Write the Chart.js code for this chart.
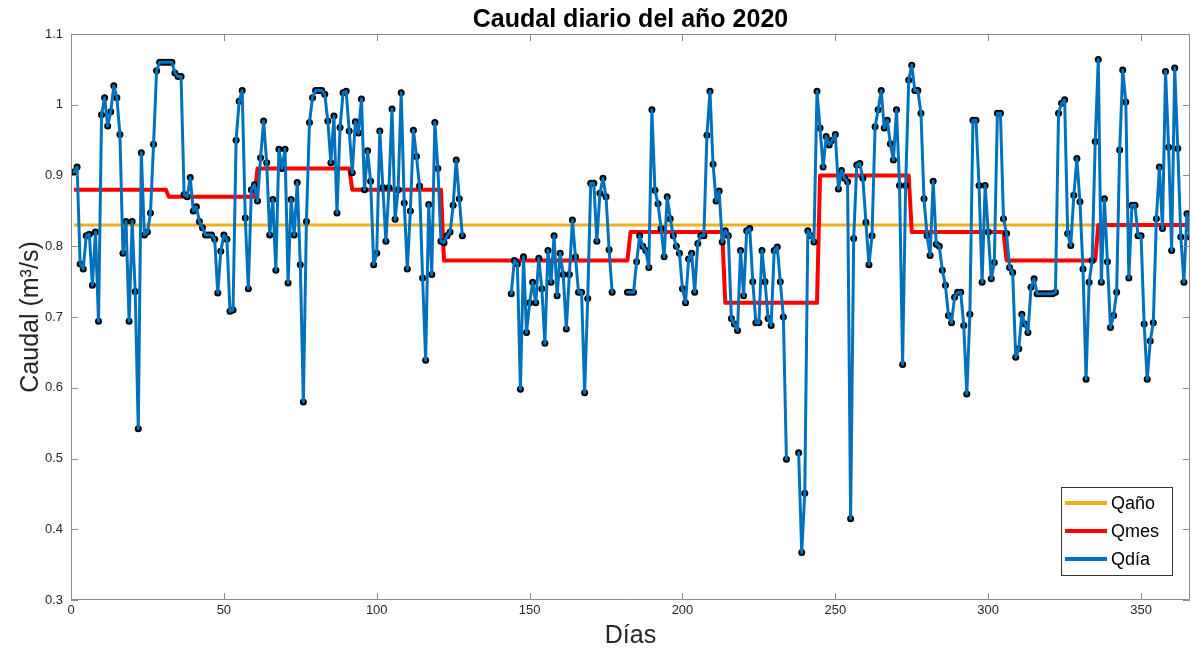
<!DOCTYPE html>
<html lang="es">
<head>
<meta charset="utf-8">
<title>Caudal diario del año 2020</title>
<script src="https://cdn.jsdelivr.net/npm/chart.js@4.4.1/dist/chart.umd.min.js"></script>
<style>
  html, body { margin: 0; padding: 0; background: #fff; }
  #wrap { width: 1194px; height: 653px; }
</style>
</head>
<body>
<div id="wrap"><canvas id="caudalChart" width="1194" height="653"></canvas></div>
<script>
// Caudal medio anual (m3/s)
const qAnio = 0.83;

// Medias mensuales y días de cada mes (2020 es bisiesto)
const diasMes = [31, 29, 31, 30, 31, 30, 31, 31, 30, 31, 30, 31];
const qMes = [0.88, 0.87, 0.91, 0.88, 0.78, 0.78, 0.82, 0.72, 0.90, 0.82, 0.78, 0.83];

// Caudal diario, días 1 a 366 (null = sin dato)
const qDia = [
  0.905, 0.912, 0.775, 0.768, 0.815, 0.817, 0.745, 0.82, 0.694, 0.986,     // 1-10
  1.01, 0.97, 0.99, 1.027, 1.01, 0.958, 0.79, 0.835, 0.694, 0.835,         // 11-20
  0.736, 0.542, 0.932, 0.816, 0.82, 0.847, 0.944, 1.048, 1.06, 1.06,       // 21-30
  1.06, 1.06, 1.06, 1.045, 1.04, 1.04, 0.873, 0.87, 0.897, 0.85,           // 31-40
  0.856, 0.835, 0.826, 0.816, 0.816, 0.816, 0.81, 0.734, 0.793, 0.816,     // 41-50
  0.81, 0.708, 0.71, 0.95, 1.005, 1.02, 0.84, 0.74, 0.88, 0.887,           // 51-60
  0.864, 0.925, 0.977, 0.918, 0.816, 0.866, 0.766, 0.937, 0.91, 0.937,     // 61-70
  0.748, 0.866, 0.816, 0.89, 0.774, 0.58, 0.835, 0.975, 1.01, 1.02,        // 71-80
  1.02, 1.02, 1.015, 0.977, 0.918, 0.984, 0.847, 0.968, 1.017, 1.019,      // 81-90
  0.963, 0.904, 0.976, 0.96, 1.008, 0.88, 0.935, 0.892, 0.774, 0.79,       // 91-100
  0.963, 0.883, 0.807, 0.883, 0.994, 0.838, 0.88, 1.017, 0.861, 0.768,     // 101-110
  0.85, 0.964, 0.927, 0.885, 0.755, 0.639, 0.859, 0.76, 0.975, 0.91,       // 111-120
  0.807, 0.805, 0.815, 0.82, 0.858, 0.922, 0.867, 0.815, null, null,       // 121-130
  null, null, null, null, null, null, null, null, null, null,              // 131-140
  null, null, null, 0.733, 0.78, 0.775, 0.598, 0.785, 0.678, 0.72,         // 141-150
  0.749, 0.72, 0.783, 0.74, 0.663, 0.794, 0.749, 0.815, 0.73, 0.79,        // 151-160
  0.76, 0.683, 0.76, 0.837, 0.785, 0.735, 0.735, 0.593, 0.726, 0.889,      // 161-170
  0.889, 0.807, 0.875, 0.896, 0.87, 0.795, 0.735, null, null, null,        // 171-180
  null, 0.735, 0.735, 0.735, 0.778, 0.815, 0.80, 0.794, 0.77, 0.993,       // 181-190
  0.879, 0.86, 0.825, 0.785, 0.87, 0.839, 0.815, 0.80, 0.79, 0.74,         // 191-200
  0.72, 0.782, 0.79, 0.735, 0.804, 0.815, 0.815, 0.957, 1.019, 0.916,      // 201-210
  0.864, 0.878, 0.806, 0.822, 0.815, 0.698, 0.69, 0.681, 0.794, 0.73,      // 211-220
  0.822, 0.825, 0.75, 0.692, 0.692, 0.794, 0.75, 0.698, 0.688, 0.794,      // 221-230
  0.799, 0.75, 0.7, 0.499, null, null, null, 0.508, 0.367, 0.451,          // 231-240
  0.822, 0.815, 0.806, 1.019, 0.967, 0.912, 0.955, 0.943, 0.95, 0.958,     // 241-250
  0.881, 0.907, 0.896, 0.891, 0.415, 0.811, 0.915, 0.917, 0.896, 0.834,    // 251-260
  0.774, 0.815, 0.969, 0.993, 1.02, 0.967, 0.978, 0.945, 0.922, 0.993,     // 261-270
  0.886, 0.633, 0.886, 1.035, 1.056, 1.02, 1.02, 0.988, 0.867, 0.815,      // 271-280
  0.787, 0.892, 0.803, 0.8, 0.766, 0.745, 0.702, 0.692, 0.728, 0.735,      // 281-290
  0.735, 0.688, 0.591, 0.704, 0.978, 0.978, 0.886, 0.749, 0.886, 0.82,     // 291-300
  0.754, 0.777, 0.988, 0.988, 0.839, 0.818, 0.77, 0.763, 0.643, 0.655,     // 301-310
  0.704, 0.69, 0.678, 0.742, 0.754, 0.733, 0.733, 0.733, 0.733, 0.733,     // 311-320
  0.733, 0.735, 0.988, 1.002, 1.007, 0.818, 0.801, 0.872, 0.924, 0.863,    // 321-330
  0.768, 0.612, 0.749, 0.78, 0.948, 1.064, 0.749, 0.867, 0.778, 0.685,     // 331-340
  0.702, 0.735, 0.936, 1.049, 1.004, 0.755, 0.858, 0.858, 0.815, 0.815,    // 341-350
  0.69, 0.612, 0.666, 0.692, 0.839, 0.912, 0.825, 1.047, 0.94, 0.794,      // 351-360
  1.052, 0.938, 0.813, 0.749, 0.846, 0.813                                 // 361-366
];

// Marcas de los ejes
const ticksX = [0, 50, 100, 150, 200, 250, 300, 350];
const ticksY = [0.3, 0.4, 0.5, 0.6, 0.7, 0.8, 0.9, 1, 1.1];

// Series en pares (día, caudal)
const puntosDia = qDia.map((q, i) => ({ x: i + 1, y: q }));
const puntosMes = [];
diasMes.forEach((n, m) => {
    for (let k = 0; k < n; k++) puntosMes.push({ x: puntosMes.length + 1, y: qMes[m] });
});
const puntosAnio = [{ x: 1, y: qAnio }, { x: qDia.length, y: qAnio }];

const fuente = '"Liberation Sans", Arial, Helvetica, sans-serif';
const colorTexto = '#262626';
const colorMarco = '#8c8c8c';

// Marco, marcas hacia dentro, título y leyenda dibujados sobre el área del gráfico
const marcoPlugin = {
    id: 'marco',
    afterDraw(chart) {
        const ctx = chart.ctx;
        const a = chart.chartArea;
        const sx = chart.scales.x, sy = chart.scales.y;
        const largo = 7;

        ctx.save();
        ctx.strokeStyle = colorMarco;
        ctx.lineWidth = 1;
        ctx.beginPath();
        ctx.rect(a.left + 0.5, a.top + 0.5, a.right - a.left - 1, a.bottom - a.top - 1);
        sx.ticks.forEach(t => {
            const px = Math.round(sx.getPixelForValue(t.value)) + 0.5;
            ctx.moveTo(px, a.bottom); ctx.lineTo(px, a.bottom - largo);
            ctx.moveTo(px, a.top); ctx.lineTo(px, a.top + largo);
        });
        sy.ticks.forEach(t => {
            const py = Math.round(sy.getPixelForValue(t.value)) + 0.5;
            ctx.moveTo(a.left, py); ctx.lineTo(a.left + largo, py);
            ctx.moveTo(a.right, py); ctx.lineTo(a.right - largo, py);
        });
        ctx.stroke();

        // Título
        ctx.fillStyle = '#000';
        ctx.font = 'bold 25px ' + fuente;
        ctx.textAlign = 'center';
        ctx.textBaseline = 'alphabetic';
        ctx.fillText('Caudal diario del año 2020', (a.left + a.right) / 2, 27);

        // Leyenda
        const items = chart.data.datasets.filter(d => d.enLeyenda);
        const ancho = 111, alto = 88;
        const bx = a.right - 18 - ancho, by = a.bottom - 25 - alto;
        ctx.fillStyle = '#fff';
        ctx.fillRect(bx, by, ancho, alto);
        ctx.strokeStyle = '#333';
        ctx.strokeRect(bx + 0.5, by + 0.5, ancho, alto);
        ctx.font = '18px ' + fuente;
        ctx.textAlign = 'left';
        ctx.textBaseline = 'middle';
        items.forEach((d, i) => {
            const yy = by + 16 + i * 28;
            ctx.strokeStyle = d.borderColor;
            ctx.lineWidth = 4;
            ctx.beginPath();
            ctx.moveTo(bx + 4, yy); ctx.lineTo(bx + 46, yy);
            ctx.stroke();
            ctx.fillStyle = '#000';
            ctx.fillText(d.label, bx + 50, yy + 1);
        });
        ctx.restore();
    }
};

const ctx = document.getElementById('caudalChart').getContext('2d');
new Chart(ctx, {
    type: 'line',
    data: {
        datasets: [
            {
                label: 'Qaño',
                data: puntosAnio,
                borderColor: '#EDB120',
                borderWidth: 3,
                pointRadius: 0,
                order: 3,
                enLeyenda: true
            },
            {
                label: 'Qmes',
                data: puntosMes,
                borderColor: '#FF0000',
                borderWidth: 4,
                pointRadius: 0,
                borderJoinStyle: 'round',
                order: 2,
                enLeyenda: true
            },
            {
                label: 'Qdía',
                data: puntosDia,
                borderColor: '#0072BD',
                borderWidth: 3,
                pointRadius: 0,
                borderJoinStyle: 'round',
                borderCapStyle: 'round',
                spanGaps: false,
                order: 0,
                enLeyenda: true
            },
            {
                label: 'marcas',
                data: puntosDia,
                showLine: false,
                pointRadius: 3.5,
                pointBackgroundColor: '#000',
                pointBorderWidth: 0,
                order: 1
            }
        ]
    },
    options: {
        responsive: false,
        animation: false,
        devicePixelRatio: 1,
        events: [],
        layout: { padding: { left: 0, right: 2, top: 34, bottom: 0 } },
        plugins: {
            legend: { display: false },
            title: { display: false },
            tooltip: { enabled: false }
        },
        scales: {
            x: {
                type: 'linear',
                min: 0,
                max: 366,
                afterBuildTicks: s => { s.ticks = ticksX.map(v => ({ value: v })); },
                afterFit: s => { s.height = 53; },
                grid: { display: false, drawTicks: false },
                border: { display: false },
                ticks: {
                    color: colorTexto,
                    font: { family: fuente, size: 13 },
                    padding: 3,
                    maxRotation: 0,
                    autoSkip: false
                },
                title: {
                    display: true,
                    text: 'Días',
                    color: colorTexto,
                    font: { family: fuente, size: 25 },
                    padding: { top: 0, bottom: 2 }
                }
            },
            y: {
                type: 'linear',
                min: 0.3,
                max: 1.1,
                afterBuildTicks: s => { s.ticks = ticksY.map(v => ({ value: v })); },
                afterFit: s => { s.width = 71; },
                grid: { display: false, drawTicks: false },
                border: { display: false },
                ticks: {
                    color: colorTexto,
                    font: { family: fuente, size: 13 },
                    padding: 8,
                    callback: v => String(Math.round(v * 10) / 10)
                },
                title: {
                    display: true,
                    text: 'Caudal (m³/s)',
                    color: colorTexto,
                    font: { family: fuente, size: 25 },
                    padding: { top: 16, bottom: 0 }
                }
            }
        }
    },
    plugins: [marcoPlugin]
});
</script>
</body>
</html>
